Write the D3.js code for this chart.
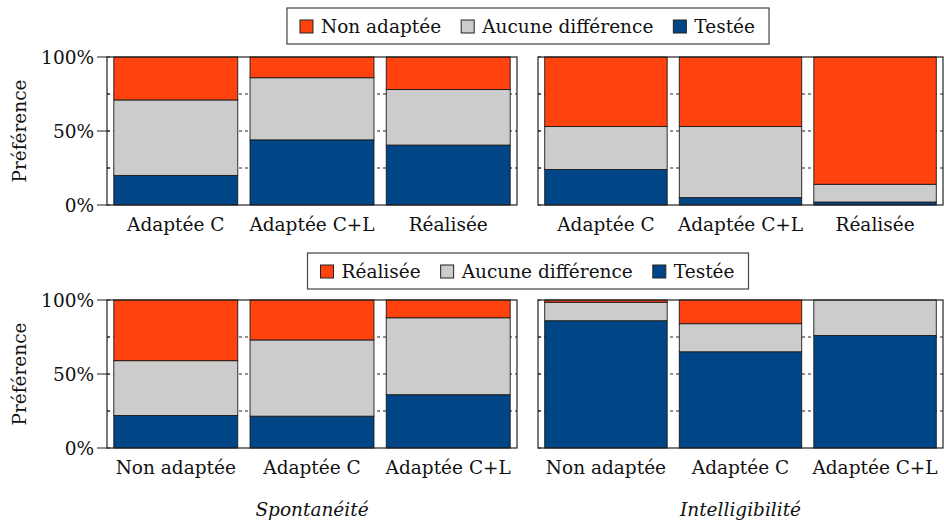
<!DOCTYPE html>
<html>
<head>
<meta charset="utf-8">
<script src="https://cdn.jsdelivr.net/npm/d3@7"></script>
<style>
  body { margin: 0; background: #fff; }
  text { font-family: "DejaVu Serif", serif; fill: #111; font-size: 18.5px; }
</style>
</head>
<body>
<script>
// categories of each row
var topCategories = ["Adaptée C", "Adaptée C+L", "Réalisée"];
var bottomCategories = ["Non adaptée", "Adaptée C", "Adaptée C+L"];
var columnTitles = ["Spontanéité", "Intelligibilité"];
var yTicks = [0, 50, 100];

// top row : Testée vs Non adaptée (percent)
var topLeftTestee = [20, 44, 40.5];
var topLeftAucune = [51, 42, 37.5];
var topLeftNonAdaptee = [29, 14, 22];
var topRightTestee = [24, 5, 2];
var topRightAucune = [29, 48, 12];
var topRightNonAdaptee = [47, 47, 86];

// bottom row : Testée vs Réalisée (percent)
var bottomLeftTestee = [22, 21.5, 36];
var bottomLeftAucune = [37, 51.5, 52];
var bottomLeftRealisee = [41, 27, 12];
var bottomRightTestee = [86, 65, 76];
var bottomRightAucune = [12.5, 19, 24];
var bottomRightRealisee = [1.5, 16, 0];

var colors = {testee: "#004586", aucune: "#cccccc", autre: "#ff420e"};

var svg = d3.select("body").append("svg")
    .attr("width", 944)
    .attr("height", 527);

var panelsX = [[107, 517], [538, 943]];
var rowsY = [[57, 205], [300, 448]];

function drawPanel(x0, x1, y0, y1, cats, testee, aucune, autre, showLabels) {
  var x = d3.scaleBand().domain(cats).range([x0, x1]).paddingInner(0.09).paddingOuter(0.05);
  var y = d3.scaleLinear().domain([0, 100]).range([y1, y0]);

  var g = svg.append("g");

  // dotted grid lines (only seen between the bars)
  g.selectAll(".grid")
    .data([25, 50, 75])
    .enter().append("line")
      .attr("x1", x0).attr("x2", x1)
      .attr("y1", function(d) {return y(d)})
      .attr("y2", function(d) {return y(d)})
      .attr("stroke", "#222")
      .attr("stroke-width", 1)
      .attr("stroke-dasharray", "3,3");

  var rows = cats.map(function(c, i) {
    return {cat: c, testee: testee[i], aucune: aucune[i], autre: autre[i]};
  });
  var stack = d3.stack().keys(["testee", "aucune", "autre"])(rows);

  g.selectAll(".layer")
    .data(stack)
    .enter().append("g")
      .attr("fill", function(d) {return colors[d.key]})
    .selectAll("rect")
    .data(function(d) {return d})
    .enter().append("rect")
      .filter(function(d) {return d[1] - d[0] > 0})
      .attr("x", function(d) {return x(d.data.cat)})
      .attr("width", x.bandwidth())
      .attr("y", function(d) {return y(d[1])})
      .attr("height", function(d) {return y(d[0]) - y(d[1])})
      .attr("stroke", "#1a1a1a")
      .attr("stroke-width", 0.9);

  // frame
  g.append("rect")
    .attr("x", x0).attr("y", y0)
    .attr("width", x1 - x0).attr("height", y1 - y0)
    .attr("fill", "none")
    .attr("stroke", "#222")
    .attr("stroke-width", 1.2);

  // y ticks
  g.selectAll(".tick")
    .data(yTicks)
    .enter().append("line")
      .attr("x1", showLabels ? x0 - 10 : x0).attr("x2", x0 + 3)
      .attr("y1", function(d) {return y(d)})
      .attr("y2", function(d) {return y(d)})
      .attr("stroke", "#222");
  g.selectAll(".minor")
    .data([25, 75])
    .enter().append("line")
      .attr("x1", x0).attr("x2", x0 + 3)
      .attr("y1", function(d) {return y(d)})
      .attr("y2", function(d) {return y(d)})
      .attr("stroke", "#222");

  if (showLabels) {
    g.selectAll(".ylab")
      .data(yTicks)
      .enter().append("text")
        .attr("x", x0 - 13)
        .attr("y", function(d) {return y(d) + 7})
        .attr("text-anchor", "end")
        .text(function(d) {return d + "%"});
    g.append("text")
      .attr("transform", "translate(26," + ((y0 + y1) / 2) + ") rotate(-90)")
      .attr("text-anchor", "middle")
      .text("Préférence");
  }

  // category labels
  g.selectAll(".xlab")
    .data(cats)
    .enter().append("text")
      .attr("x", function(d) {return x(d) + x.bandwidth() / 2})
      .attr("y", y1 + 26)
      .attr("text-anchor", "middle")
      .text(function(d) {return d});
}

drawPanel(panelsX[0][0], panelsX[0][1], rowsY[0][0], rowsY[0][1], topCategories,
          topLeftTestee, topLeftAucune, topLeftNonAdaptee, true);
drawPanel(panelsX[1][0], panelsX[1][1], rowsY[0][0], rowsY[0][1], topCategories,
          topRightTestee, topRightAucune, topRightNonAdaptee, false);
drawPanel(panelsX[0][0], panelsX[0][1], rowsY[1][0], rowsY[1][1], bottomCategories,
          bottomLeftTestee, bottomLeftAucune, bottomLeftRealisee, true);
drawPanel(panelsX[1][0], panelsX[1][1], rowsY[1][0], rowsY[1][1], bottomCategories,
          bottomRightTestee, bottomRightAucune, bottomRightRealisee, false);

// legends
function drawLegend(cx, top, labels) {
  var g = svg.append("g");
  var box = g.append("rect")
    .attr("y", top).attr("height", 36)
    .attr("fill", "#fff")
    .attr("stroke", "#444")
    .attr("stroke-width", 1.2);
  var keys = ["autre", "aucune", "testee"];
  var xpos = 13;
  keys.forEach(function(k, i) {
    g.append("rect")
      .attr("x", xpos).attr("y", top + 12)
      .attr("width", 13).attr("height", 13)
      .attr("fill", colors[k])
      .attr("stroke", "#222");
    var t = g.append("text")
      .attr("x", xpos + 21)
      .attr("y", top + 25)
      .text(labels[i]);
    xpos = xpos + 21 + t.node().getComputedTextLength() + (i < 2 ? 20 : 14);
  });
  box.attr("x", 0).attr("width", xpos);
  g.attr("transform", "translate(" + (cx - xpos / 2) + ",0)");
}

drawLegend(528, 8, ["Non adaptée", "Aucune différence", "Testée"]);
drawLegend(528, 253, ["Réalisée", "Aucune différence", "Testée"]);

// column titles
svg.selectAll(".title")
  .data(columnTitles)
  .enter().append("text")
    .attr("x", function(d, i) {return (panelsX[i][0] + panelsX[i][1]) / 2})
    .attr("y", 516)
    .attr("text-anchor", "middle")
    .style("font-style", "italic")
    .text(function(d) {return d});
</script>
</body>
</html>
